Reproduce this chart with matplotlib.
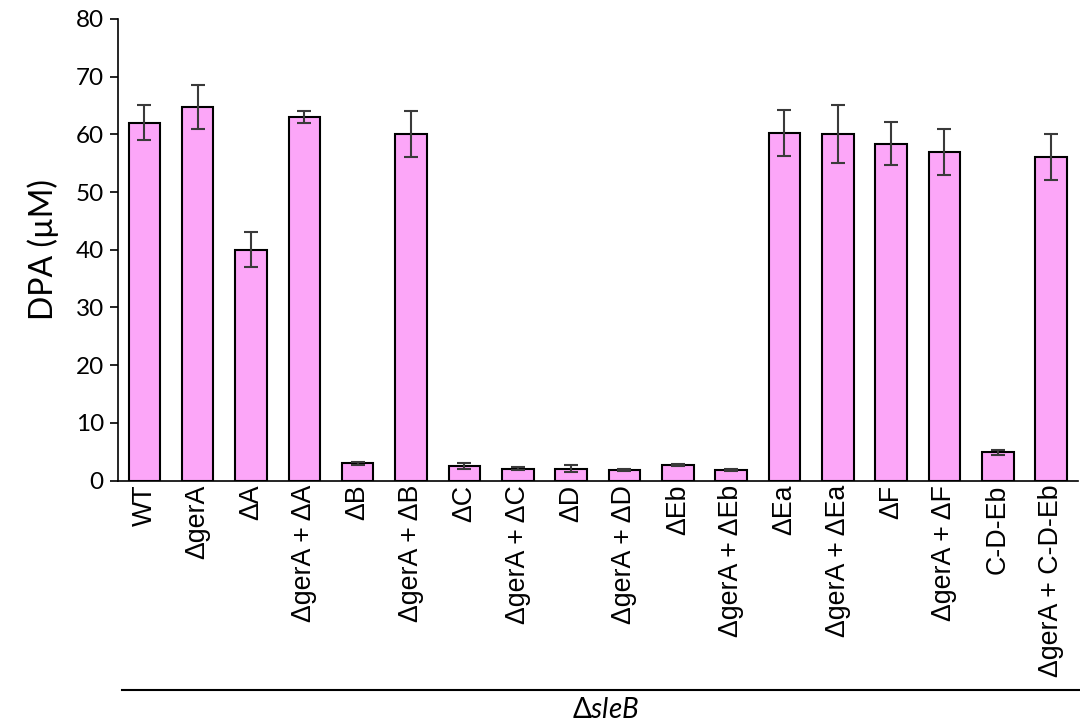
import numpy as np
import matplotlib
matplotlib.use("Agg")
import matplotlib.pyplot as plt

plt.rcParams['mathtext.fontset'] = 'custom'
plt.rcParams['mathtext.rm'] = 'Lato'
plt.rcParams['mathtext.it'] = 'Lato:italic'

strains = ["WT", "ΔgerA", "ΔA", "ΔgerA + ΔA", "ΔB", "ΔgerA + ΔB",
           "ΔC", "ΔgerA + ΔC", "ΔD", "ΔgerA + ΔD", "ΔEb", "ΔgerA + ΔEb",
           "ΔEa", "ΔgerA + ΔEa", "ΔF", "ΔgerA + ΔF", "C-D-Eb", "ΔgerA + C-D-Eb"]
dpa = [62.0, 64.7, 40.0, 63.0, 3.0, 60.0,
       2.5, 2.1, 2.1, 1.9, 2.7, 1.9,
       60.2, 60.0, 58.4, 57.0, 4.9, 56.0]
dpa_err = [3.0, 3.8, 3.0, 1.0, 0.3, 4.0,
           0.5, 0.3, 0.6, 0.2, 0.2, 0.2,
           4.0, 5.0, 3.8, 4.0, 0.5, 4.0]

fig = plt.figure(figsize=(10.8, 7.25), dpi=100)
ax = fig.add_axes([0.109, 0.337, 0.889, 0.637])

x = np.arange(len(strains))
ax.bar(x, dpa, width=0.59, color="#FCA6F8", edgecolor="black", linewidth=1.5,
       yerr=dpa_err, error_kw=dict(ecolor="#3a3a3a", elinewidth=1.5,
                                   capsize=4.7, capthick=1.5))

ax.set_xlim(-0.5, len(strains) - 0.5)
ax.set_ylim(0, 80)
ax.set_yticks(np.arange(0, 81, 10))
ax.set_xticks(x)
ax.set_xticklabels(strains, rotation=90, fontsize=19.3, family="Liberation Sans")
ax.tick_params(axis="x", length=0, pad=3)
ax.tick_params(axis="y", length=6, width=1.2, direction="out", pad=4)
for lab in ax.get_yticklabels():
    lab.set_family("Lato")
    lab.set_fontsize(17.5)
ax.set_ylabel("DPA (µM)", fontsize=23, family="Lato", labelpad=12)

for s in ["top", "right"]:
    ax.spines[s].set_visible(False)
ax.spines["left"].set_linewidth(1.2)
ax.spines["bottom"].set_linewidth(1.2)

# bracket line and group label under the strain names
fig.add_artist(plt.Line2D([122 / 1080, 1.0], [1 - 690 / 725, 1 - 690 / 725],
                          color="black", linewidth=1.5))
fig.text(606 / 1080, 1 - 710 / 725, r"Δ$\mathit{sleB}$", ha="center", va="center",
         fontsize=20, family="Lato")

fig.savefig("out.png", dpi=100)
